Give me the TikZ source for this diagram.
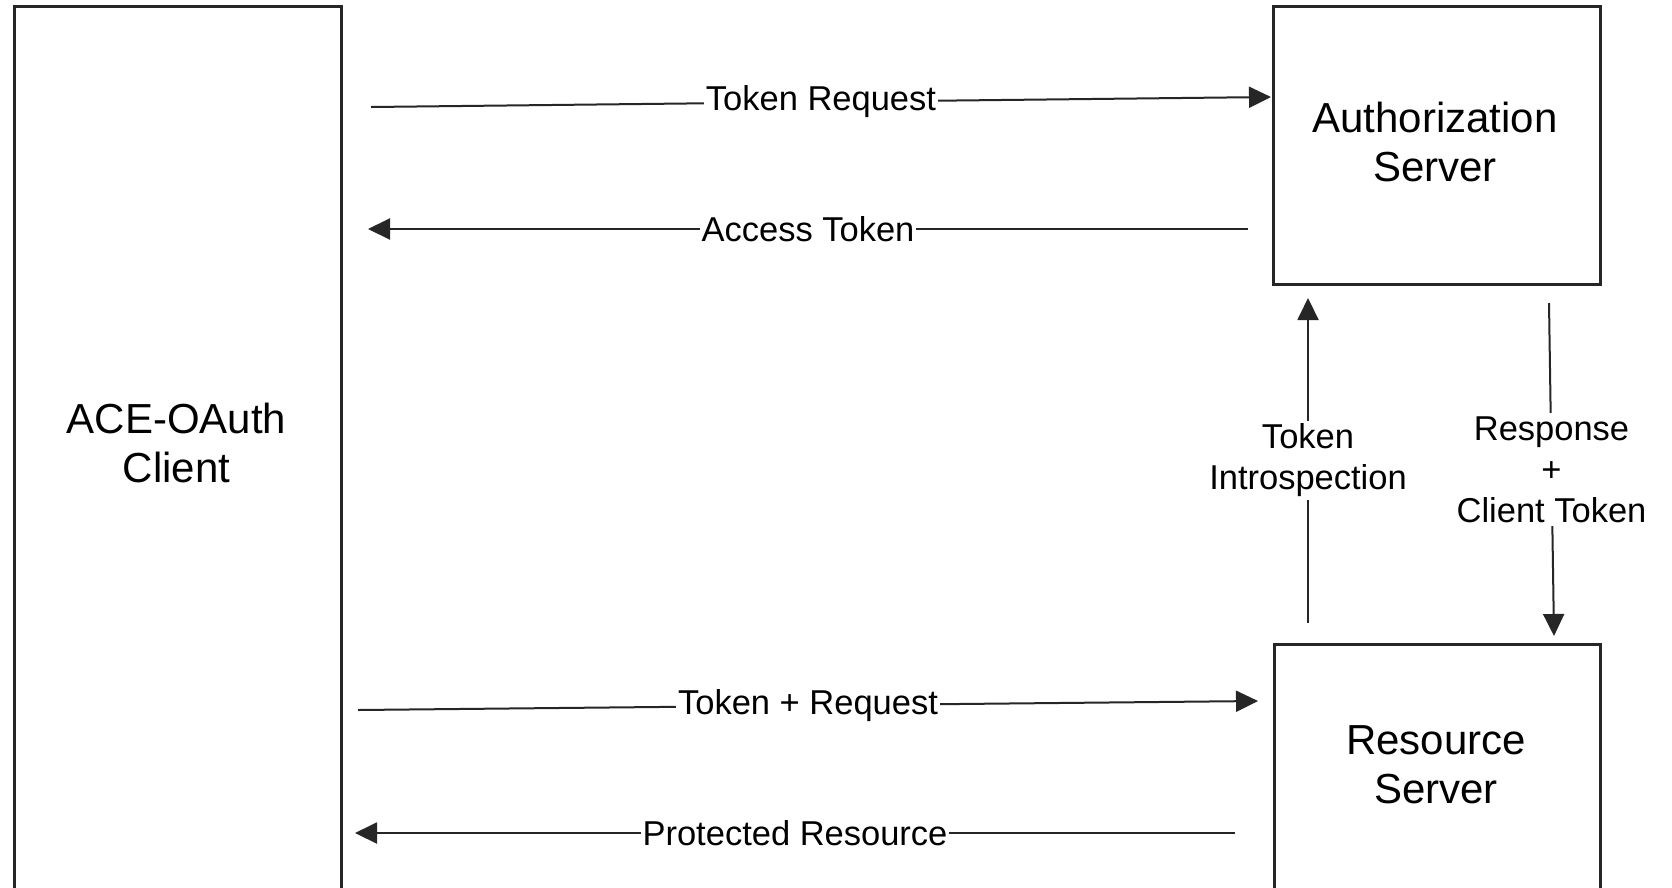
\documentclass[tikz,border=0pt]{standalone}
\usepackage{fontspec}
\setmainfont{Liberation Sans}
\usetikzlibrary{arrows.meta}
\begin{document}
\begin{tikzpicture}[x=1pt,y=-1pt,
  box/.style={draw=black!85, line width=2.5pt, inner sep=0pt, anchor=north west},
  boxtext/.style={font=\fontsize{42}{49}\selectfont, align=center, inner sep=0pt},
  flow/.style={draw=black!85, line width=2pt, -{Triangle[length=22pt,width=21pt]}},
  flowtext/.style={font=\fontsize{34.5}{41}\selectfont, fill=white, text=black,
    inner xsep=2pt, inner ysep=3pt, align=center}
]
\useasboundingbox (0,0) rectangle (1672,887);
\clip (0,0) rectangle (1672,887);
\fill[white] (0,0) rectangle (1672,887);

% participants
\node[box, minimum width=327pt, minimum height=900pt] (client) at (13,5) {};
\node[box, minimum width=327pt, minimum height=278pt] (auth) at (1272,5) {};
\node[box, minimum width=326pt, minimum height=260pt] (res) at (1273,643) {};

\node[boxtext] (clientlabel) at (176.5,443) {ACE-OAuth\\Client};
\node[boxtext] (authlabel) at (1435,142) {Authorization\\Server};
\node[boxtext] (reslabel) at (1436,765) {Resource\\Server};

% message end points
\coordinate (trS) at (371,107);
\coordinate (trE) at (1271,97);
\coordinate (atS) at (1248,229);
\coordinate (atE) at (368,229);
\coordinate (tqS) at (358,710);
\coordinate (tqE) at (1258,701);
\coordinate (prS) at (1235,833);
\coordinate (prE) at (355,833);
\coordinate (tiS) at (1308,623);
\coordinate (tiE) at (1308,298);
\coordinate (rcS) at (1549,303);
\coordinate (rcE) at (1554,636);

% messages
\draw[flow] (trS) -- node[flowtext] (trlabel) {Token Request} (trE);
\draw[flow] (atS) -- node[flowtext] (atlabel) {Access Token} (atE);
\draw[flow] (tqS) -- node[flowtext] (tqlabel) {Token + Request} (tqE);
\draw[flow] (prS) -- node[flowtext] (prlabel) {Protected Resource} (prE);
\draw[flow] (tiS) -- node[flowtext] (tilabel) {Token\\Introspection} (tiE);
\draw[flow] (rcS) -- node[flowtext] (rclabel) {Response\\+\\Client Token} (rcE);
\end{tikzpicture}
\end{document}
